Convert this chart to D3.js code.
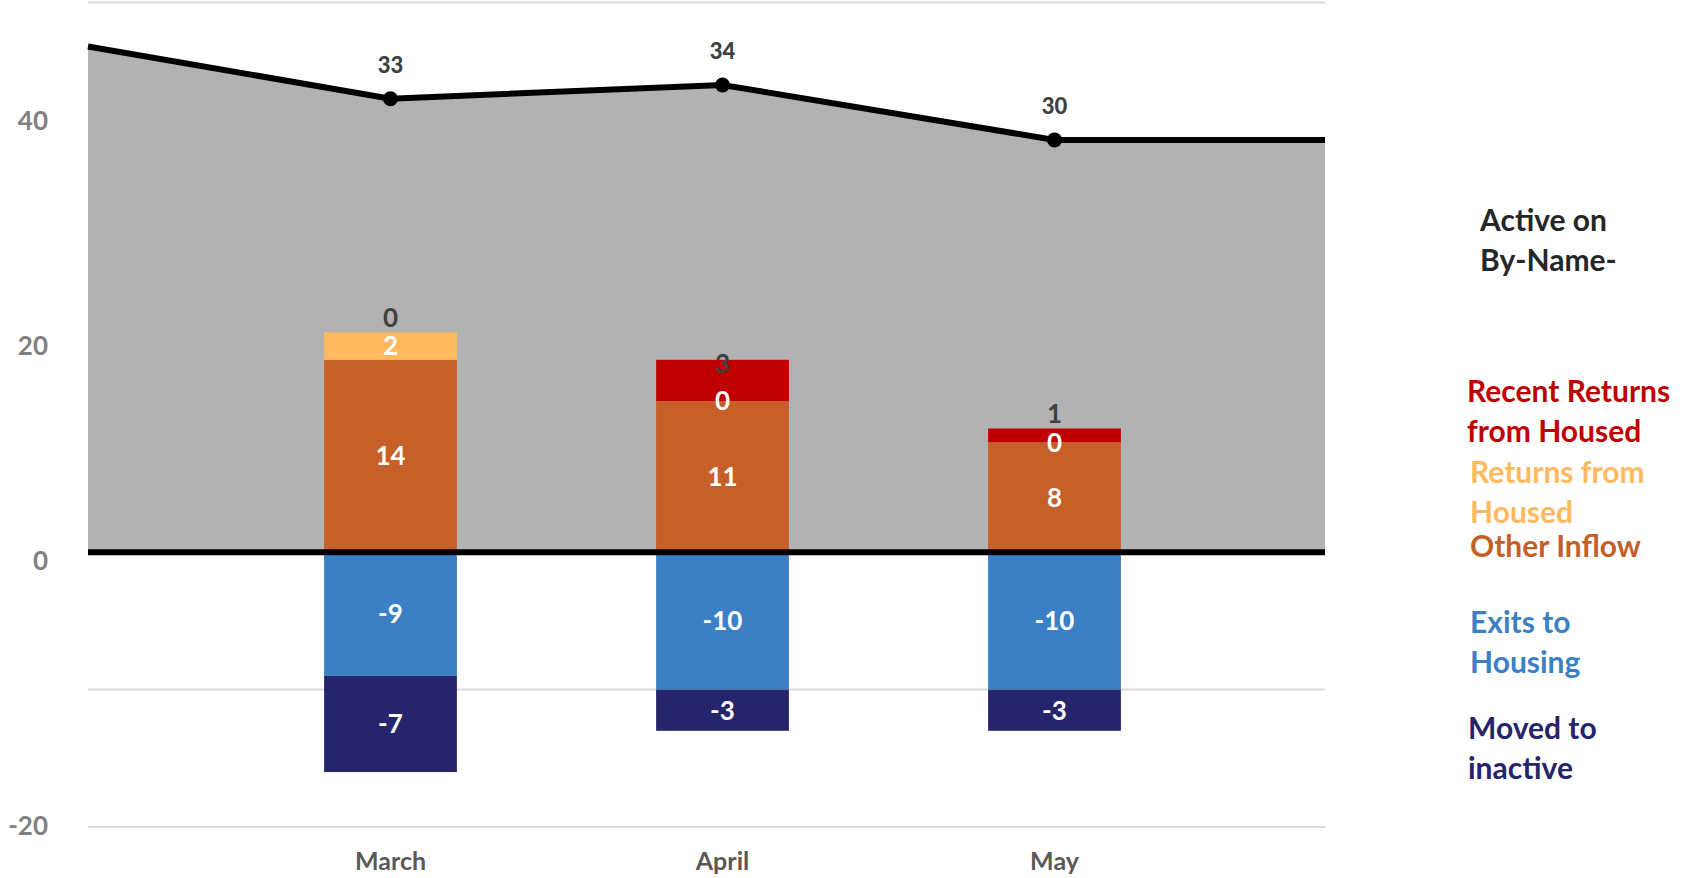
<!DOCTYPE html>
<html>
<head>
<meta charset="utf-8">
<script src="https://cdn.jsdelivr.net/npm/d3@7"></script>
<style>
  body { margin: 0; background: #fff; }
  svg text { font-family: Lato, "Open Sans", sans-serif; font-weight: bold; }
</style>
</head>
<body>
<div class="chart"></div>
<script>
// chart values
var months = ["March", "April", "May"];
var activeTotal = [33, 34, 30];
var activeLead = 36.8;   // where the line enters at the left edge
var activeTail = 30;     // flat tail to the right edge
var otherInflow = [14, 11, 8];
var returnsHoused = [2, 0, 0];
var recentReturns = [0, 3, 1];
var exitsHousing = [-9, -10, -10];
var movedInactive = [-7, -3, -3];
var yTickLabels = [-20, 0, 20, 40];
var gridValues = [-20, -10, 0, 10, 20, 30, 40];

var Width = 1683, Height = 878;
var plotLeft = 88, plotRight = 1325;

var svg = d3.select(".chart").append("svg")
  .attr("width", Width)
  .attr("height", Height);

var yScale = d3.scaleLinear().domain([-20, 40]).range([827, 2.5]);
// left labels sit on their own (uneven) axis in the original
var yLabelScale = d3.scaleLinear().domain([-20, 0, 20, 40]).range([826, 561, 346, 121]);

var xScale = d3.scaleBand().domain(months).range([224.5, 1220.5])
  .paddingInner(0.6).paddingOuter(0.3);
var bw = xScale.bandwidth();
var cx = function(m) { return xScale(m) + bw / 2; };

// gridlines
svg.append("g").selectAll("line")
  .data(gridValues)
  .enter().append("line")
    .attr("x1", plotLeft).attr("x2", plotRight)
    .attr("y1", (d) => yScale(d)).attr("y2", (d) => yScale(d))
    .attr("stroke", "#d9d9d9").attr("stroke-width", 2);

// area + line for active count
var pts = [[plotLeft, activeLead]]
  .concat(months.map((m, i) => [cx(m), activeTotal[i]]))
  .concat([[plotRight, activeTail]]);

svg.append("path")
  .datum(pts)
  .attr("fill", "#b2b2b2")
  .attr("d", d3.area().x((d) => d[0]).y0(yScale(0)).y1((d) => yScale(d[1])));

// stacked bars
var stacks = [
  {vals: otherInflow, color: "#c65f28"},
  {vals: returnsHoused, color: "#ffb95e"},
  {vals: recentReturns, color: "#c00000"}
];
var negStacks = [
  {vals: exitsHousing, color: "#3b80c4"},
  {vals: movedInactive, color: "#26246a"}
];

var segs = [];
months.forEach(function(m, i) {
  var base = 0;
  stacks.forEach(function(s, k) {
    segs.push({m: m, y0: base, y1: base + s.vals[i], v: s.vals[i], color: s.color, series: k});
    base += s.vals[i];
  });
  base = 0;
  negStacks.forEach(function(s, k) {
    segs.push({m: m, y0: base, y1: base + s.vals[i], v: s.vals[i], color: s.color, series: 10 + k});
    base += s.vals[i];
  });
});

svg.append("g").selectAll("rect")
  .data(segs)
  .enter().append("rect")
    .attr("x", (d) => xScale(d.m))
    .attr("width", bw)
    .attr("y", (d) => yScale(Math.max(d.y0, d.y1)))
    .attr("height", (d) => Math.abs(yScale(d.y0) - yScale(d.y1)))
    .attr("fill", (d) => d.color);

// bar labels
svg.append("g").selectAll("text")
  .data(segs)
  .enter().append("text")
    .attr("x", (d) => cx(d.m))
    .attr("y", function(d) {
      if (d.series == 2) {
        var top = yScale(d.y1), h = yScale(d.y0) - yScale(d.y1);
        return h > 30 ? top + 13 : top - 5;
      }
      return (yScale(d.y0) + yScale(d.y1)) / 2;
    })
    .attr("dy", (d) => d.series == 2 ? 0 : "0.36em")
    .attr("text-anchor", "middle")
    .attr("fill", (d) => d.series == 2 ? "#404040" : "#fff")
    .style("font-size", "26px")
    .text((d) => d.v);

// zero line
svg.append("line")
  .attr("x1", plotLeft).attr("x2", plotRight)
  .attr("y1", yScale(0)).attr("y2", yScale(0))
  .attr("stroke", "#000").attr("stroke-width", 6);

// active line
svg.append("path")
  .datum(pts)
  .attr("fill", "none")
  .attr("stroke", "#000")
  .attr("stroke-width", 6)
  .attr("d", d3.line().x((d) => d[0]).y((d) => yScale(d[1])));

svg.append("g").selectAll("circle")
  .data(months)
  .enter().append("circle")
    .attr("cx", (d) => cx(d))
    .attr("cy", (d, i) => yScale(activeTotal[i]))
    .attr("r", 7.5)
    .attr("fill", "#000");

svg.append("g").selectAll("text")
  .data(months)
  .enter().append("text")
    .attr("x", (d) => cx(d))
    .attr("y", (d, i) => yScale(activeTotal[i]) - 26)
    .attr("text-anchor", "middle")
    .attr("fill", "#404040")
    .style("font-size", "22px")
    .style("font-weight", "900")
    .text((d, i) => activeTotal[i]);

// left axis labels
svg.append("g").selectAll("text")
  .data(yTickLabels)
  .enter().append("text")
    .attr("x", 48)
    .attr("y", (d) => yLabelScale(d))
    .attr("dy", "0.36em")
    .attr("text-anchor", "end")
    .attr("fill", "#808080")
    .style("font-size", "26px")
    .text((d) => d);

// category labels
var xAxis = d3.axisBottom(xScale).tickSize(0).tickPadding(0);
var gx = svg.append("g")
  .attr("transform", "translate(0,870)")
  .call(xAxis);
gx.select(".domain").remove();
gx.selectAll("text")
  .attr("dy", 0)
  .attr("fill", "#595959")
  .style("font-size", "25px")
  .style("font-family", "Lato, sans-serif")
  .style("font-weight", "bold");

// legend
var legendItems = [
  {lines: ["Active on", "By-Name-"], color: "#262626", x: 1480, y: 231},
  {lines: ["Recent Returns", "from Housed"], color: "#c00000", x: 1467, y: 402},
  {lines: ["Returns from", "Housed"], color: "#ffb95e", x: 1470, y: 483},
  {lines: ["Other Inflow"], color: "#c55f28", x: 1470, y: 557},
  {lines: ["Exits to", "Housing"], color: "#3b80c4", x: 1470, y: 633},
  {lines: ["Moved to", "inactive"], color: "#26246a", x: 1468, y: 739}
];

var lg = svg.append("g").selectAll("text")
  .data(legendItems)
  .enter().append("text")
    .attr("x", (d) => d.x)
    .attr("y", (d) => d.y)
    .attr("fill", (d) => d.color)
    .style("font-size", "30px");
lg.selectAll("tspan")
  .data((d) => d.lines.map((l) => ({t: l, x: d.x})))
  .enter().append("tspan")
    .attr("x", (d) => d.x)
    .attr("dy", (d, i) => i == 0 ? 0 : 39.5)
    .text((d) => d.t);
</script>
</body>
</html>
